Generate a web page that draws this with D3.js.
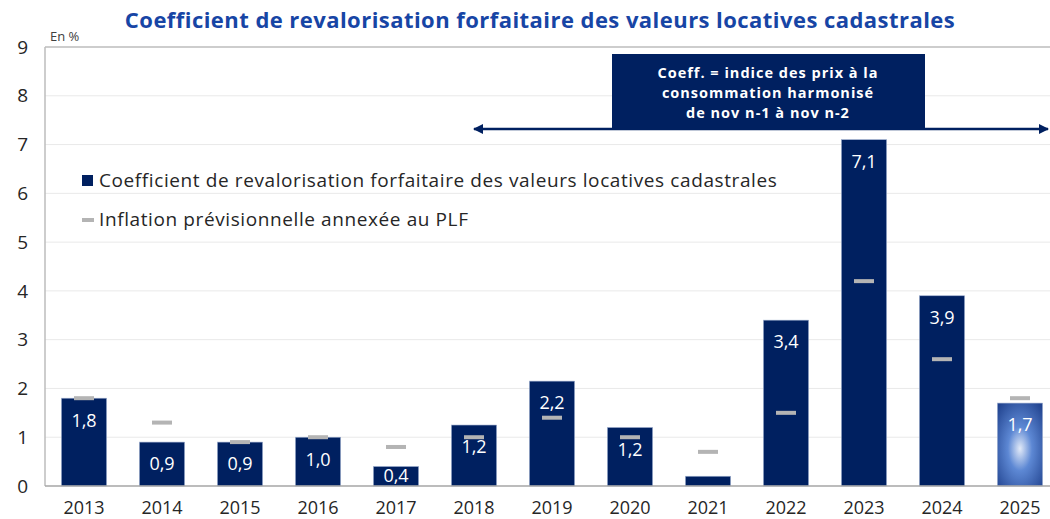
<!DOCTYPE html>
<meta charset="utf-8">
<style>
    body { margin: 0; background: #fff; }
    svg text { font-family: "Open Sans", sans-serif; }
</style>
<svg width="1050" height="519"></svg>
<script src="https://cdn.jsdelivr.net/npm/d3@7"></script>
<script>

    // données
    var years = ["2013", "2014", "2015", "2016", "2017", "2018", "2019", "2020", "2021", "2022", "2023", "2024", "2025"];
    var coeff = [1.8, 0.9, 0.9, 1.0, 0.4, 1.25, 2.15, 1.2, 0.2, 3.4, 7.1, 3.9, 1.7];
    var coeffLabels = ["1,8", "0,9", "0,9", "1,0", "0,4", "1,2", "2,2", "1,2", "", "3,4", "7,1", "3,9", "1,7"];
    var inflation = [1.8, 1.3, 0.9, 1.0, 0.8, 1.0, 1.4, 1.0, 0.7, 1.5, 4.2, 2.6, 1.8];
    var yTicks = [0, 1, 2, 3, 4, 5, 6, 7, 8, 9];
    var boxLines = ["Coeff. = indice des prix à la", "consommation harmonisé", "de nov n-1 à nov n-2"];

    var navy = "#002060";

    var svg = d3.select("svg"),
        left = 45,
        step = 78;

    var x = d3.scaleBand()
        .domain(years)
        .range([left, left + years.length * step])
        .paddingInner(0.42)
        .paddingOuter(0.21);

    var y = d3.scaleLinear()
        .domain([0, 9])
        .range([486, 47]);

    var defs = svg.append("defs");
    var grad = defs.append("radialGradient")
        .attr("id", "glow")
        .attr("cx", "50%").attr("cy", "55%").attr("r", "70%");
    grad.append("stop").attr("offset", "0%").attr("stop-color", "#e2eaf8");
    grad.append("stop").attr("offset", "38%").attr("stop-color", "#5d88d4");
    grad.append("stop").attr("offset", "100%").attr("stop-color", "#21438f");

    // grille
    svg.append("g").selectAll("line")
        .data(yTicks.filter(function (d) { return d > 0 && d < 9; }))
        .enter().append("line")
        .attr("x1", left).attr("x2", 1050)
        .attr("y1", function (d) { return y(d); })
        .attr("y2", function (d) { return y(d); })
        .attr("stroke", "#e9e9e9")
        .attr("stroke-width", 1);

    svg.append("line")
        .attr("x1", left).attr("x2", 1050)
        .attr("y1", y(9)).attr("y2", y(9))
        .attr("stroke", "#bdbdbd").attr("stroke-width", 1.5);

    svg.append("line")
        .attr("x1", left).attr("x2", left)
        .attr("y1", y(9)).attr("y2", y(0))
        .attr("stroke", "#bdbdbd").attr("stroke-width", 1.5);

    // barres
    svg.append("g").selectAll("rect")
        .data(years)
        .enter().append("rect")
        .attr("x", function (d) { return x(d); })
        .attr("width", x.bandwidth())
        .attr("y", function (d, i) { return y(coeff[i]); })
        .attr("height", function (d, i) { return y(0) - y(coeff[i]); })
        .attr("fill", function (d, i) { return i === years.length - 1 ? "url(#glow)" : navy; })
        .attr("stroke", "#9fb0d0")
        .attr("stroke-width", 0.6);

    svg.append("line")
        .attr("x1", left).attr("x2", 1050)
        .attr("y1", y(0)).attr("y2", y(0))
        .attr("stroke", "#a6a6a6").attr("stroke-width", 1.5);

    // étiquettes de valeur
    svg.append("g").selectAll("text")
        .data(years)
        .enter().append("text")
        .attr("x", function (d) { return x(d) + x.bandwidth() / 2; })
        .attr("y", function (d, i) { return Math.min(y(coeff[i]) + 22, y(0) - 10); })
        .attr("dy", "0.35em")
        .attr("text-anchor", "middle")
        .attr("fill", "#fff")
        .style("font-size", "18px")
        .text(function (d, i) { return coeffLabels[i]; });

    // inflation prévisionnelle
    svg.append("g").selectAll("rect")
        .data(years)
        .enter().append("rect")
        .attr("x", function (d) { return x(d) + x.bandwidth() / 2 - 10; })
        .attr("y", function (d, i) { return y(inflation[i]) - 2; })
        .attr("width", 20)
        .attr("height", 4)
        .attr("fill", "#b4b4b4");

    // axes
    svg.append("g").selectAll("text")
        .data(yTicks)
        .enter().append("text")
        .attr("x", 28)
        .attr("y", function (d) { return y(d); })
        .attr("dy", "0.35em")
        .attr("text-anchor", "end")
        .attr("fill", "#262626")
        .style("font-size", "19px")
        .text(function (d) { return d; });

    svg.append("g").selectAll("text")
        .data(years)
        .enter().append("text")
        .attr("x", function (d) { return x(d) + x.bandwidth() / 2; })
        .attr("y", 514)
        .attr("text-anchor", "middle")
        .attr("fill", "#262626")
        .style("font-size", "18px")
        .text(function (d) { return d; });

    svg.append("text")
        .attr("x", 50).attr("y", 41)
        .attr("fill", "#404040")
        .style("font-size", "13px")
        .text("En %");

    // titre
    svg.append("text")
        .attr("x", 540).attr("y", 28)
        .attr("text-anchor", "middle")
        .attr("fill", "#1745a5")
        .style("font-size", "22px")
        .style("letter-spacing", "0.45px")
        .style("font-weight", "bold")
        .text("Coefficient de revalorisation forfaitaire des valeurs locatives cadastrales");

    // encadré + flèche
    defs.append("marker")
        .attr("id", "arrow")
        .attr("viewBox", "0 0 10 10")
        .attr("refX", 9).attr("refY", 5)
        .attr("markerWidth", 4).attr("markerHeight", 4)
        .attr("orient", "auto-start-reverse")
        .append("path")
        .attr("d", "M0,0 L10,5 L0,10 z")
        .attr("fill", navy);

    svg.append("rect")
        .attr("x", 612).attr("y", 54)
        .attr("width", 313).attr("height", 74)
        .attr("fill", navy);

    svg.append("text")
        .attr("x", 768).attr("y", 78)
        .attr("text-anchor", "middle")
        .attr("fill", "#fff")
        .style("font-size", "14.5px")
        .style("letter-spacing", "1px")
        .style("font-weight", "bold")
        .selectAll("tspan")
        .data(boxLines)
        .enter().append("tspan")
        .attr("x", 768)
        .attr("dy", function (d, i) { return i === 0 ? 0 : 19.8; })
        .text(function (d) { return d; });

    svg.append("line")
        .attr("x1", x("2018") + x.bandwidth() / 2)
        .attr("x2", 1048)
        .attr("y1", 129).attr("y2", 129)
        .attr("stroke", navy)
        .attr("stroke-width", 2.5)
        .attr("marker-start", "url(#arrow)")
        .attr("marker-end", "url(#arrow)");

    // légende
    var legend = svg.append("g");
    legend.append("rect")
        .attr("x", 82).attr("y", 175)
        .attr("width", 11).attr("height", 11)
        .attr("fill", navy);
    legend.append("text")
        .attr("x", 99).attr("y", 187)
        .attr("fill", "#262626")
        .style("font-size", "19px")
        .style("letter-spacing", "0.6px")
        .text("Coefficient de revalorisation forfaitaire des valeurs locatives cadastrales");
    legend.append("rect")
        .attr("x", 82).attr("y", 218)
        .attr("width", 12).attr("height", 4)
        .attr("fill", "#b4b4b4");
    legend.append("text")
        .attr("x", 99).attr("y", 226)
        .attr("fill", "#262626")
        .style("font-size", "19px")
        .style("letter-spacing", "0.6px")
        .text("Inflation prévisionnelle annexée au PLF");

</script>
